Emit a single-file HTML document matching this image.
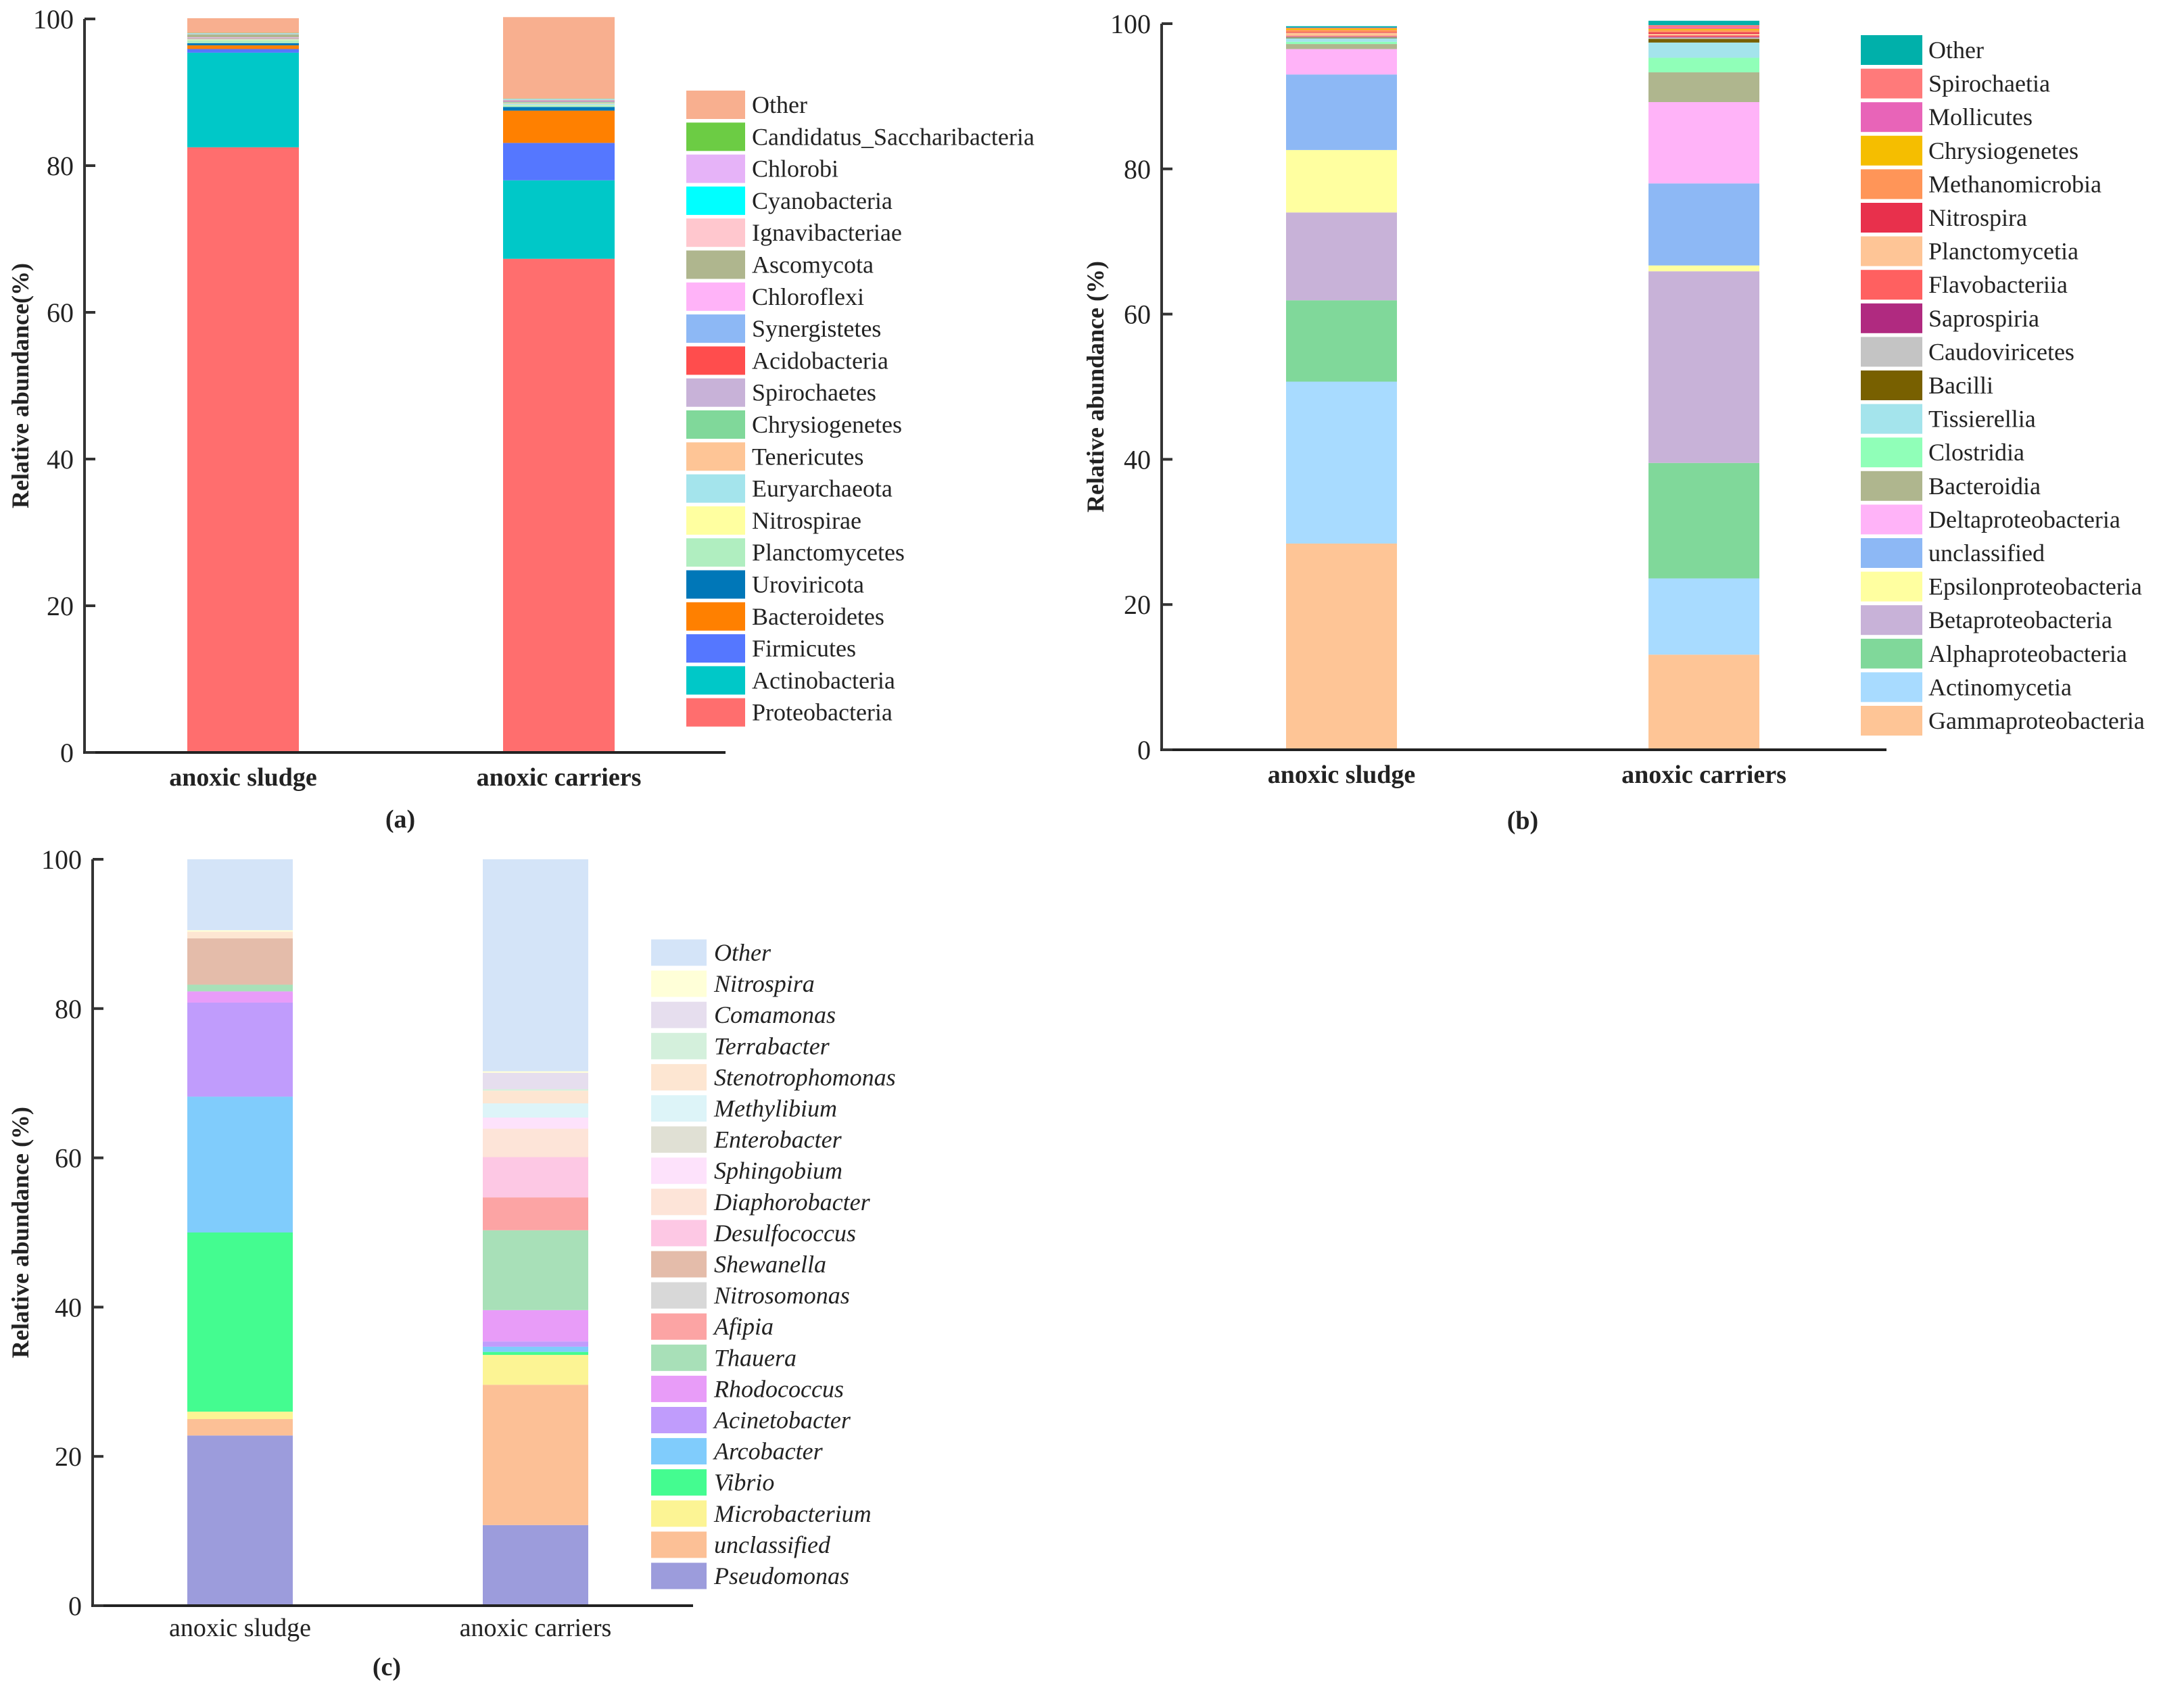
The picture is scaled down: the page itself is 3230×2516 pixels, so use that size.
<!DOCTYPE html>
<html><head><meta charset="utf-8">
<style>
html,body{margin:0;padding:0;background:#fff;}
svg, svg text{font-family:"Liberation Serif","DejaVu Serif",serif;}
</style></head>
<body>
<svg id="fig" width="3230" height="2511" viewBox="0 0 3230 2511" xmlns="http://www.w3.org/2000/svg" font-family="Liberation Serif, serif"></svg>
<script>
const yTicks = [0, 20, 40, 60, 80, 100];
const samples = ["anoxic sludge", "anoxic carriers"];

// Panel (a) – phylum
const aTaxa = ["Proteobacteria","Actinobacteria","Firmicutes","Bacteroidetes","Uroviricota","Planctomycetes","Nitrospirae","Euryarchaeota","Tenericutes","Chrysiogenetes","Spirochaetes","Acidobacteria","Synergistetes","Chloroflexi","Ascomycota","Ignavibacteriae","Cyanobacteria","Chlorobi","Candidatus_Saccharibacteria","Other"];
const aSludge = [82.5,12.9,0.5,0.5,0.3,0.4,0.05,0.05,0.05,0.05,0.05,0.05,0.05,0.05,0.4,0.05,0.05,0.05,0.05,2.0];
const aCarriers = [67.3,10.7,5.1,4.4,0.5,0.2,0.05,0.2,0.1,0.1,0.1,0.05,0.05,0.05,0.05,0.05,0.05,0.05,0.05,11.1];
const aColors = ["#FF6E6E","#00C8C8","#5577FF","#FF8000","#0077B8","#B0EEC0","#FFFFA0","#A4E4EC","#FEC596","#80D89A","#C8B2D8","#FF4D4D","#8DB8F5","#FFB3F8","#AFB68E","#FFC7CE","#00FFFF","#E6B3F8","#6CCC44","#F8AF8F"];

// Panel (b) – class
const bTaxa = ["Gammaproteobacteria","Actinomycetia","Alphaproteobacteria","Betaproteobacteria","Epsilonproteobacteria","unclassified","Deltaproteobacteria","Bacteroidia","Clostridia","Tissierellia","Bacilli","Caudoviricetes","Saprospiria","Flavobacteriia","Planctomycetia","Nitrospira","Methanomicrobia","Chrysiogenetes","Mollicutes","Spirochaetia","Other"];
const bSludge = [28.4,22.3,11.2,12.1,8.6,10.4,3.5,0.7,0.3,0.5,0.1,0.1,0.05,0.1,0.4,0.1,0.3,0.2,0.05,0.05,0.2];
const bCarriers = [13.1,10.5,15.9,26.4,0.8,11.3,11.2,4.1,2.0,2.1,0.5,0.2,0.1,0.2,0.2,0.2,0.3,0.2,0.2,0.3,0.6];
const bColors = ["#FEC596","#A8DBFF","#80D89A","#C8B2D8","#FFFFA0","#8DB8F5","#FFB3F8","#AFB68E","#90FFB8","#A4E4EC","#786000","#C4C4C4","#B02A80","#FF6060","#FEC596","#E8304C","#FF9558","#F5BE00","#E864B8","#FF7A7A","#00B0AA"];

// Panel (c) – genus
const cTaxa = ["Pseudomonas","unclassified","Microbacterium","Vibrio","Arcobacter","Acinetobacter","Rhodococcus","Thauera","Afipia","Nitrosomonas","Shewanella","Desulfococcus","Diaphorobacter","Sphingobium","Enterobacter","Methylibium","Stenotrophomonas","Terrabacter","Comamonas","Nitrospira","Other"];
const cSludge = [22.8,2.2,1.0,24.0,18.2,12.6,1.5,0.9,0,0,6.2,0,0,0,0,0,0.9,0,0,0.2,9.5];
const cCarriers = [10.8,18.8,4.0,0.4,0.7,0.7,4.2,10.7,4.4,0,0,5.4,3.8,1.5,0,1.9,1.7,0.2,2.2,0.2,28.4];
const cColors = ["#9C9CDC","#FCC096","#FCF494","#44FC90","#80CCFC","#C09CFC","#E89CF8","#A8E0B8","#FCA4A4","#D8D8D8","#E4BCAA","#FDC8E4","#FDE4D8","#FDE2FB","#E0E0D4","#DDF4F8","#FDE6D2","#D4F0DC","#E6DEEE","#FFFFD8","#D4E4F8"];

const NS = "http://www.w3.org/2000/svg";
const svg = document.getElementById("fig");
const FF = "Liberation Serif, DejaVu Serif, serif";
function mk(tag, attrs, parent, text){
  const e = document.createElementNS(NS, tag);
  for (const k in attrs) e.setAttribute(k, attrs[k]);
  if (tag === "text") e.setAttribute("font-family", FF);
  if (text !== undefined) e.textContent = text;
  (parent || svg).appendChild(e);
  return e;
}

function panel(cfg){
  const g = mk("g", {});
  
  
  const y = v => cfg.y0 - (v / 100) * (cfg.y0 - cfg.y100);
  const series = [cfg.s1, cfg.s2];
  series.forEach((vals, si) => {
    let cum = 0;
    vals.forEach((v, i) => {
      if (v <= 0) { return; }
      const top = y(cum + v), bot = y(cum);
      const r = mk("rect", {x: cfg.barX[si], y: top, width: cfg.barW, height: Math.max(bot - top, 0.5), fill: cfg.colors[i]}, g);
      
      
      cum += v;
    });
  });
  const ya = mk("line", {x1: cfg.ax, y1: cfg.y100, x2: cfg.ax, y2: cfg.y0, stroke: "#333", "stroke-width": 4}, g);
  
  
  const xa = mk("line", {x1: cfg.ax - 2, y1: cfg.y0, x2: cfg.axEnd, y2: cfg.y0, stroke: "#222", "stroke-width": 4}, g);
  
  
  yTicks.forEach(t => {
    const tk = mk("line", {x1: cfg.ax, y1: y(t), x2: cfg.ax + 16, y2: y(t), stroke: "#333", "stroke-width": 4}, g);
    
    
    const tl = mk("text", {x: cfg.ax - 16, y: y(t) + 14, "text-anchor": "end", "font-size": 40, fill: "#222"}, g, String(t));
    
    
  });
  samples.forEach((s, i) => {
    const cl = mk("text", {x: cfg.barX[i] + cfg.barW / 2, y: cfg.labY, "text-anchor": "middle", "font-size": 38, "font-weight": cfg.boldLab ? "bold" : "normal", fill: "#222"}, g, s);
    
    
  });
  const my = (cfg.y0 + cfg.y100) / 2;
  const yt = mk("text", {x: cfg.ytX, y: my, "text-anchor": "middle", "font-size": 36, "font-weight": "bold", fill: "#222", transform: `rotate(-90 ${cfg.ytX} ${my})`}, g, cfg.yTitle);
  
  
  const pl = mk("text", {x: cfg.plX, y: cfg.plY, "text-anchor": "middle", "font-size": 38, "font-weight": "bold", fill: "#222"}, g, cfg.plabel);
  
  
  const n = cfg.taxa.length;
  for (let k = 0; k < n; k++) {
    const i = n - 1 - k;
    const cy = cfg.legTop + k * cfg.legStep;
    const sw = mk("rect", {x: cfg.legX, y: cy - cfg.swH / 2, width: cfg.swW, height: cfg.swH, fill: cfg.colors[i]}, g);
    
    
    const lt = mk("text", {x: cfg.legTX, y: cy + 12, "font-size": 36, "font-style": cfg.italic ? "italic" : "normal", fill: "#222"}, g, cfg.taxa[i]);
    
    
  }
}

panel({name: "panel-a-phylum", s1: aSludge, s2: aCarriers, colors: aColors, taxa: aTaxa,
  ax: 125, axEnd: 1073, y100: 28, y0: 1113, barX: [277, 744], barW: 165,
  labY: 1162, boldLab: true, ytX: 42, yTitle: "Relative abundance(%)", plX: 592, plY: 1224, plabel: "(a)",
  legX: 1015, swW: 87, swH: 42, legTX: 1112, legTop: 155, legStep: 47.3, italic: false});

panel({name: "panel-b-class", s1: bSludge, s2: bCarriers, colors: bColors, taxa: bTaxa,
  ax: 1718, axEnd: 2790, y100: 35, y0: 1109, barX: [1902, 2438], barW: 164,
  labY: 1158, boldLab: true, ytX: 1632, yTitle: "Relative abundance (%)", plX: 2252, plY: 1226, plabel: "(b)",
  legX: 2752, swW: 91, swH: 44, legTX: 2852, legTop: 74, legStep: 49.6, italic: false});

panel({name: "panel-c-genus", s1: cSludge, s2: cCarriers, colors: cColors, taxa: cTaxa,
  ax: 137, axEnd: 1025, y100: 1271, y0: 2375, barX: [277, 714], barW: 156,
  labY: 2420, boldLab: false, ytX: 42, yTitle: "Relative abundance (%)", plX: 572, plY: 2478, plabel: "(c)",
  legX: 963, swW: 82, swH: 39, legTX: 1056, legTop: 1409, legStep: 46.1, italic: true});
</script>
</body></html>
